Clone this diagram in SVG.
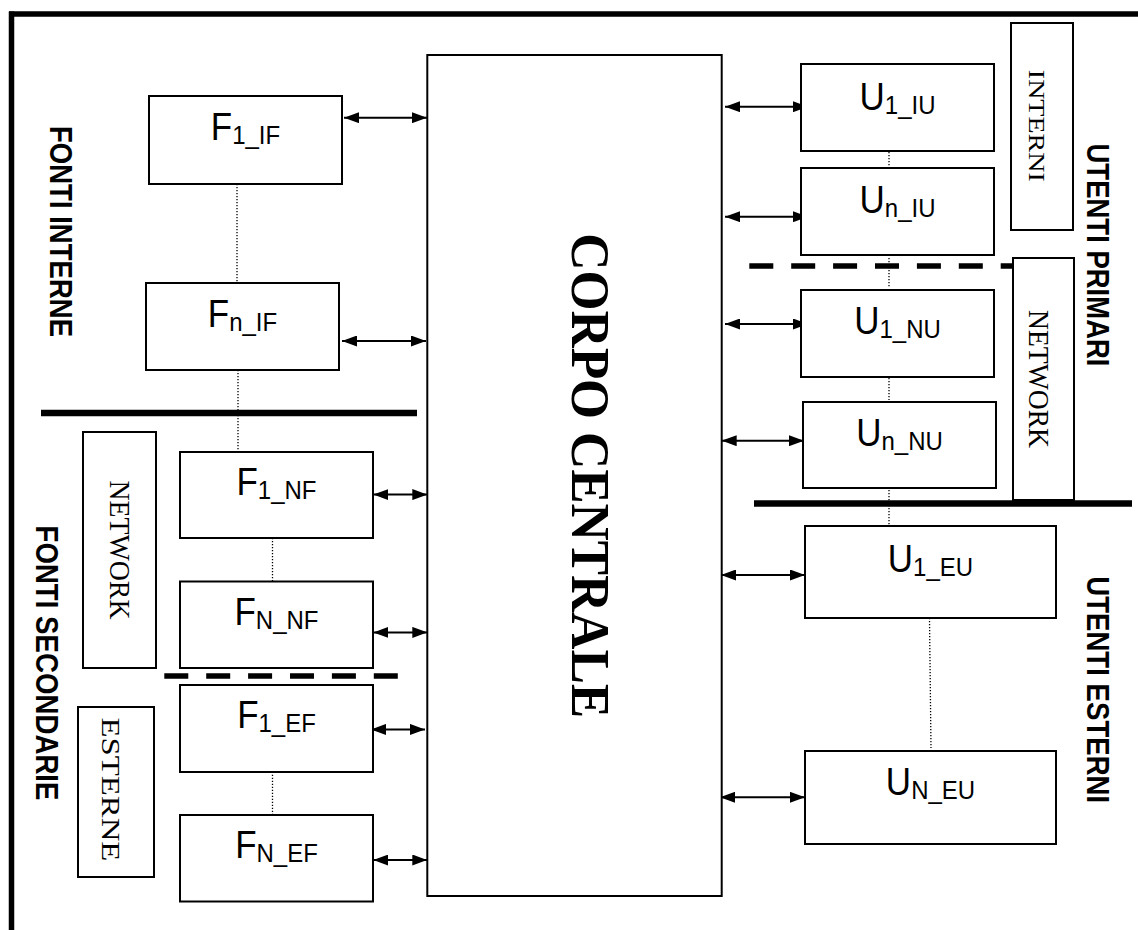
<svg xmlns="http://www.w3.org/2000/svg" width="1138" height="930" viewBox="0 0 1138 930">
<defs>
<marker id="arr" viewBox="0 0 15 11" refX="15" refY="5.5" markerWidth="15" markerHeight="11" markerUnits="userSpaceOnUse" orient="auto-start-reverse">
<path d="M0,0 L15,5.5 L0,11 z" fill="#000"/>
</marker>
<style>
.box{fill:#fff;stroke:#000;stroke-width:2}
.lab{font-family:"Liberation Sans",Arial,sans-serif;font-size:35px;fill:#000}
.sub{font-size:24px}
.hdr{font-family:"Liberation Sans",Arial,sans-serif;font-weight:bold;font-size:31px;fill:#000}
.ser{font-family:"Liberation Serif","Times New Roman",serif;fill:#000}
.arrow{stroke:#000;stroke-width:2;fill:none;marker-start:url(#arr);marker-end:url(#arr)}
.dot{stroke:#000;stroke-width:1.3;stroke-dasharray:1.3 1.7;fill:none}
.dash{stroke:#000;stroke-width:5.5;stroke-dasharray:24 17.9;fill:none}
.solid{stroke:#000;stroke-width:6.5;fill:none}
</style>
</defs>
<rect width="1138" height="930" fill="#fff"/>
<g id="frame">
<line x1="9" y1="14" x2="1138" y2="14" stroke="#000" stroke-width="5.5"/>
<line x1="11.5" y1="11.5" x2="11.5" y2="930" stroke="#000" stroke-width="5.5"/>
</g>
<g id="separators">
<line class="solid" x1="41" y1="413" x2="417" y2="413"/>
<line class="solid" x1="754" y1="503.5" x2="1132" y2="503.5"/>
<line class="dash" x1="164.3" y1="676" x2="398" y2="676"/>
<line class="dash" x1="749.3" y1="266" x2="1012" y2="266"/>
</g>
<g id="headers">
<text class="hdr" transform="translate(50,231.5) rotate(90)" text-anchor="middle" textLength="211" lengthAdjust="spacingAndGlyphs">FONTI INTERNE</text>
<text class="hdr" transform="translate(36,663) rotate(90)" text-anchor="middle" textLength="275" lengthAdjust="spacingAndGlyphs">FONTI SECONDARIE</text>
<text class="hdr" transform="translate(1087,255) rotate(90)" text-anchor="middle" textLength="223" lengthAdjust="spacingAndGlyphs">UTENTI PRIMARI</text>
<text class="hdr" transform="translate(1087,689.7) rotate(90)" text-anchor="middle" textLength="227" lengthAdjust="spacingAndGlyphs">UTENTI ESTERNI</text>
</g>
<g id="group-network-f">
<rect class="box" x="83" y="432" width="73" height="236"/>
<text class="ser" font-size="30" transform="translate(110,550) rotate(90)" text-anchor="middle" textLength="139" lengthAdjust="spacingAndGlyphs">NETWORK</text>
</g>
<g id="group-esterne">
<rect class="box" x="78" y="707" width="76" height="170"/>
<text class="ser" font-size="25" transform="translate(102,789.4) rotate(90)" text-anchor="middle" textLength="144" lengthAdjust="spacingAndGlyphs">ESTERNE</text>
</g>
<g id="group-interni">
<rect class="box" x="1011" y="23" width="62" height="207"/>
<text class="ser" font-size="23" transform="translate(1028.5,125.8) rotate(90)" text-anchor="middle" textLength="112" lengthAdjust="spacingAndGlyphs">INTERNI</text>
</g>
<g id="group-network-u">
<rect class="box" x="1013" y="258" width="61" height="242"/>
<text class="ser" font-size="30" transform="translate(1029,379) rotate(90)" text-anchor="middle" textLength="138" lengthAdjust="spacingAndGlyphs">NETWORK</text>
</g>
<g id="connectors">
<line class="dot" x1="237" y1="184" x2="237" y2="283"/>
<line class="dot" x1="238" y1="370" x2="238" y2="452"/>
<line class="dot" x1="272.5" y1="538" x2="272.5" y2="581.5"/>
<line class="dot" x1="272.5" y1="771.7" x2="272.5" y2="815"/>
<line class="dot" x1="889" y1="143" x2="889" y2="173"/>
<line class="dot" x1="889" y1="258" x2="889" y2="287"/>
<line class="dot" x1="889" y1="372" x2="889" y2="400"/>
<line class="dot" x1="889" y1="487" x2="889" y2="528"/>
<line class="dot" x1="929.5" y1="618" x2="931" y2="748"/>
<line class="arrow" x1="344" y1="117.7" x2="427" y2="117.7"/>
<line class="arrow" x1="342" y1="341" x2="426" y2="341"/>
<line class="arrow" x1="373.3" y1="494.6" x2="427.3" y2="494.6"/>
<line class="arrow" x1="373.3" y1="632.4" x2="427.3" y2="632.4"/>
<line class="arrow" x1="371" y1="729.4" x2="425" y2="729.4"/>
<line class="arrow" x1="373.3" y1="860" x2="427.3" y2="860"/>
<line class="arrow" x1="725" y1="106.7" x2="808" y2="106.7"/>
<line class="arrow" x1="725" y1="216.7" x2="808" y2="216.7"/>
<line class="arrow" x1="725" y1="324" x2="808" y2="324"/>
<line class="arrow" x1="721.7" y1="440.7" x2="804" y2="440.7"/>
<line class="arrow" x1="721" y1="575" x2="805" y2="575"/>
<line class="arrow" x1="720" y1="797.3" x2="805" y2="797.3"/>
</g>
<g id="corpo-centrale">
<rect class="box" x="427.3" y="55" width="294.4" height="841"/>
<text class="ser" font-size="55" font-weight="bold" transform="translate(572,475.7) rotate(90)" text-anchor="middle" textLength="485" lengthAdjust="spacingAndGlyphs">CORPO CENTRALE</text>
</g>
<g id="F1_IF">
<rect class="box" x="149" y="96" width="193" height="88"/>
<text class="lab" transform="translate(245.5,140) scale(1,1.1)" text-anchor="middle">F<tspan class="sub" dy="4">1_IF</tspan></text>
</g>
<g id="Fn_IF">
<rect class="box" x="146" y="283" width="193" height="87"/>
<text class="lab" transform="translate(242.5,326.5) scale(1,1.1)" text-anchor="middle">F<tspan class="sub" dy="4">n_IF</tspan></text>
</g>
<g id="F1_NF">
<rect class="box" x="180" y="452" width="193" height="86"/>
<text class="lab" transform="translate(276.5,495) scale(1,1.1)" text-anchor="middle">F<tspan class="sub" dy="4">1_NF</tspan></text>
</g>
<g id="FN_NF">
<rect class="box" x="180" y="581.5" width="193" height="86.5"/>
<text class="lab" transform="translate(276.5,624.5) scale(1,1.1)" text-anchor="middle">F<tspan class="sub" dy="4">N_NF</tspan></text>
</g>
<g id="F1_EF">
<rect class="box" x="180" y="685" width="193" height="87"/>
<text class="lab" transform="translate(276.5,728) scale(1,1.1)" text-anchor="middle">F<tspan class="sub" dy="4">1_EF</tspan></text>
</g>
<g id="FN_EF">
<rect class="box" x="180" y="815" width="193" height="86.5"/>
<text class="lab" transform="translate(276.5,858) scale(1,1.1)" text-anchor="middle">F<tspan class="sub" dy="4">N_EF</tspan></text>
</g>
<g id="U1_IU">
<rect class="box" x="801" y="64" width="193" height="87"/>
<text class="lab" transform="translate(897.5,110) scale(1,1.1)" text-anchor="middle">U<tspan class="sub" dy="4">1_IU</tspan></text>
</g>
<g id="Un_IU">
<rect class="box" x="801" y="168" width="193" height="87"/>
<text class="lab" transform="translate(897.5,213) scale(1,1.1)" text-anchor="middle">U<tspan class="sub" dy="4">n_IU</tspan></text>
</g>
<g id="U1_NU">
<rect class="box" x="801" y="290" width="193" height="87"/>
<text class="lab" transform="translate(897.5,334) scale(1,1.1)" text-anchor="middle">U<tspan class="sub" dy="4">1_NU</tspan></text>
</g>
<g id="Un_NU">
<rect class="box" x="803" y="402" width="193" height="86"/>
<text class="lab" transform="translate(899.5,446) scale(1,1.1)" text-anchor="middle">U<tspan class="sub" dy="4">n_NU</tspan></text>
</g>
<g id="U1_EU">
<rect class="box" x="805" y="526" width="251" height="92"/>
<text class="lab" transform="translate(930.5,572) scale(1,1.1)" text-anchor="middle">U<tspan class="sub" dy="4">1_EU</tspan></text>
</g>
<g id="UN_EU">
<rect class="box" x="805" y="751" width="251" height="93"/>
<text class="lab" transform="translate(930.5,795) scale(1,1.1)" text-anchor="middle">U<tspan class="sub" dy="4">N_EU</tspan></text>
</g>
</svg>
